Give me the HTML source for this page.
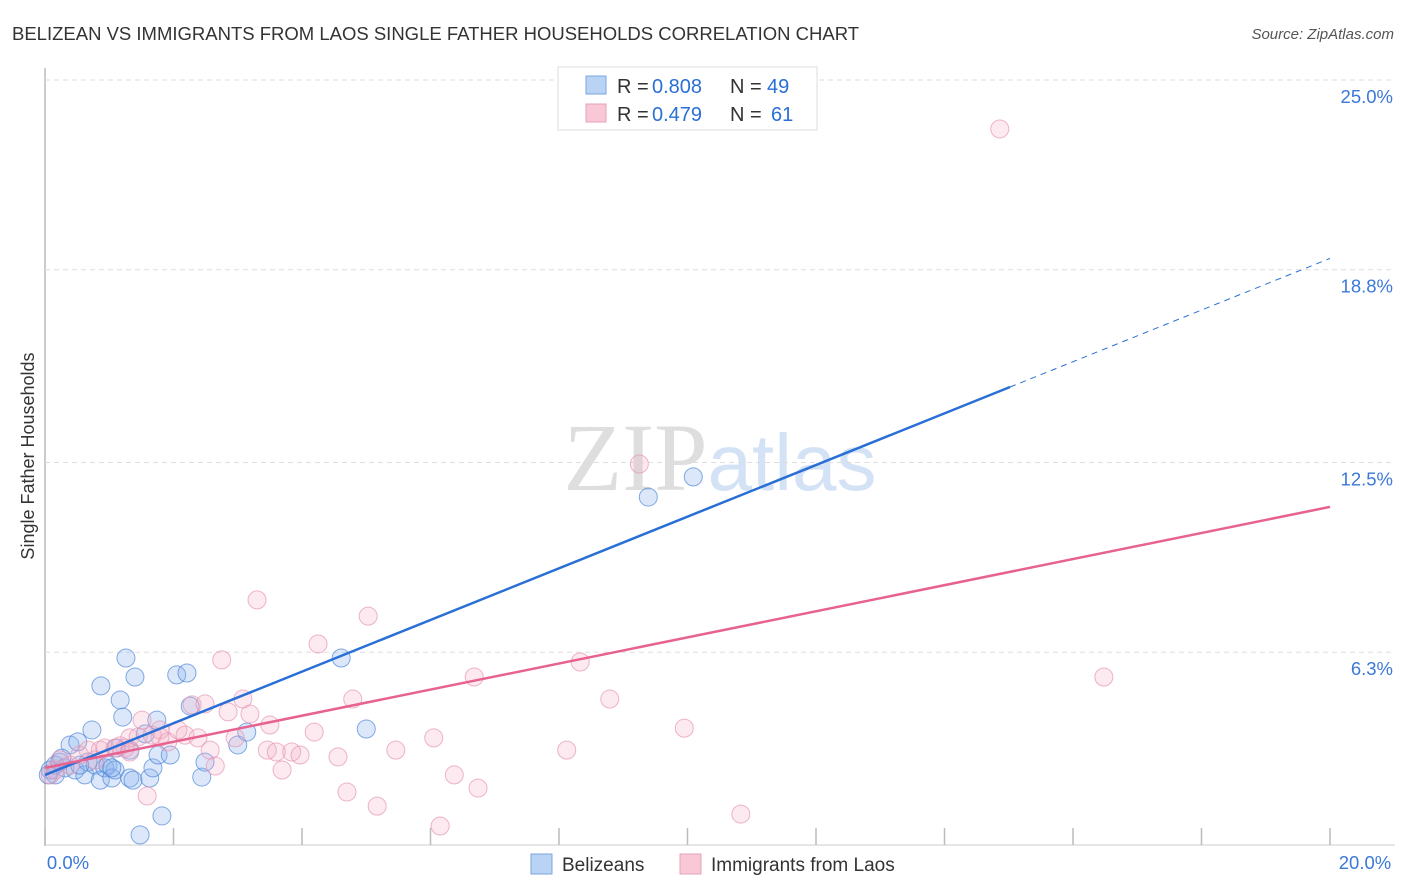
<!DOCTYPE html>
<html><head><meta charset="utf-8"><style>
body{margin:0;background:#fff;font-family:"Liberation Sans",sans-serif}
svg{display:block}
</style></head><body>
<svg id="chart" width="1406" height="892" xmlns="http://www.w3.org/2000/svg" font-family="Liberation Sans, sans-serif">
<text x="12" y="40" font-size="18.5" fill="#333">BELIZEAN VS IMMIGRANTS FROM LAOS SINGLE FATHER HOUSEHOLDS CORRELATION CHART</text>
<text x="1394" y="39" font-size="15" fill="#555" font-style="italic" text-anchor="end">Source: ZipAtlas.com</text>
<text x="720" y="490" font-size="96" text-anchor="middle" fill="#ddd" opacity="0.8"><tspan font-family="Liberation Serif, serif" fill="#d6d6d6">ZIP</tspan><tspan fill="#c9dcf2" font-size="80">atlas</tspan></text>
<text transform="translate(34,456) rotate(-90)" font-size="18" fill="#333" text-anchor="middle">Single Father Households</text>
<g id="grid"></g>
<g id="pts"></g>
<g id="lines"></g>
<g>
<rect x="558" y="67" width="259" height="63" fill="#fff" stroke="#ddd"/>
<rect x="586" y="76" width="20" height="18" fill="#b9d3f5" stroke="#7aa6e0"/>
<rect x="586" y="104" width="20" height="18" fill="#f8c8d6" stroke="#e8a0b8"/>
<text x="617" y="93" font-size="20" fill="#333">R =</text>
<text x="652" y="93" font-size="20" fill="#2a6fd6">0.808</text>
<text x="730" y="93" font-size="20" fill="#333">N =</text>
<text x="767" y="93" font-size="20" fill="#2a6fd6">49</text>
<text x="617" y="121" font-size="20" fill="#333">R =</text>
<text x="652" y="121" font-size="20" fill="#2a6fd6">0.479</text>
<text x="730" y="121" font-size="20" fill="#333">N =</text>
<text x="771" y="121" font-size="20" fill="#2a6fd6">61</text>
</g>
<g>
<rect x="531" y="854" width="21" height="20" fill="#b9d3f5" stroke="#7aa6e0"/>
<text x="562" y="871" font-size="19" fill="#333">Belizeans</text>
<rect x="680" y="854" width="21" height="20" fill="#f8c8d6" stroke="#e8a0b8"/>
<text x="711" y="871" font-size="19" fill="#333">Immigrants from Laos</text>
</g>
</svg>
<script>
const yTicks=[25.0,18.8,12.5,6.3];
const yTickLabels=["25.0%","18.8%","12.5%","6.3%"];
const xTickLabels=["0.0%","20.0%"];
const blueX=[0.08,0.16,0.23,0.31,0.39,0.47,0.51,0.62,0.67,0.73,0.78,0.86,0.87,0.93,0.98,1.04,1.09,1.17,1.21,1.26,1.32,1.37,1.40,1.48,1.56,1.63,1.68,1.74,1.76,1.82,1.95,2.05,2.21,2.26,2.44,2.49,3.00,3.14,4.61,5.00,9.39,10.09,0.16,0.26,0.54,1.04,1.11,0.05,1.32];
const blueY=[2.45,2.61,2.71,2.52,3.27,2.45,3.37,2.29,2.71,3.76,2.61,2.12,5.2,2.52,2.61,2.19,2.45,4.74,4.18,6.11,2.19,2.12,5.49,0.33,3.63,2.19,2.52,4.08,2.94,0.95,2.94,5.56,5.62,4.54,2.22,2.71,3.27,3.69,6.11,3.79,11.37,12.03,2.29,2.84,2.61,2.52,3.17,2.29,3.10];
const pinkX=[0.08,0.16,0.23,0.39,0.54,0.67,0.78,0.86,0.93,1.09,1.17,1.25,1.32,1.45,1.51,1.59,1.67,1.79,1.91,2.07,2.18,2.29,2.38,2.49,2.57,2.65,2.75,2.85,2.96,3.08,3.19,3.30,3.46,3.50,3.60,3.69,3.84,3.97,4.19,4.25,4.56,4.70,4.79,5.03,5.17,5.46,6.05,6.15,6.37,6.68,6.74,8.12,8.33,9.25,8.79,9.95,10.83,14.86,16.48,1.79,1.32];
const pinkY=[2.29,2.45,2.78,2.61,2.94,3.10,2.78,3.10,3.17,3.17,3.24,3.17,3.50,3.53,4.08,1.60,3.59,3.76,3.37,3.76,3.59,4.58,3.50,4.61,3.10,2.58,6.05,4.35,3.50,4.77,4.28,8.01,3.10,3.92,3.04,2.45,3.04,2.94,3.69,6.57,2.88,1.73,4.77,7.48,1.27,3.10,3.50,0.62,2.29,5.49,1.86,3.10,5.98,12.45,4.77,3.82,1.01,23.4,5.49,3.53,3.04];
const blueTrend=[2.29,19.17]; // y at x=0 and x=20
const pinkTrend=[2.52,11.05];
const blueSolidEnd=15.02;
const NS="http://www.w3.org/2000/svg";
const X=v=>45+v/20*1285, Y=v=>845-v/25*765;
function mk(tag,attrs,parent){const e=document.createElementNS(NS,tag);for(const k in attrs)e.setAttribute(k,attrs[k]);parent.appendChild(e);return e;}
const grid=document.getElementById('grid'),pts=document.getElementById('pts'),lines=document.getElementById('lines');
let ax=mk('line',{x1:45,y1:68,x2:45,y2:846,stroke:'#bbb','stroke-width':1.5},grid);

yTicks.forEach((t,i)=>{
 let g=mk('line',{x1:45,x2:1395,y1:Y(t),y2:Y(t),stroke:'#ddd','stroke-dasharray':'5,4'},grid);
 
 let tx=mk('text',{x:1393,y:Y(t)+23,'font-size':18.5,fill:'#3b78d8','text-anchor':'end'},grid);tx.textContent=yTickLabels[i];
 
});
let bx=mk('line',{x1:45,x2:1395,y1:845,y2:845,stroke:'#ccc'},grid);

for(let i=0;i<=10;i++){let l=mk('line',{x1:X(i*2),x2:X(i*2),y1:828,y2:845,stroke:'#bbb','stroke-width':1.5},grid);
 }
[[0,68,'middle'],[20,1365,'middle']].forEach((a,i)=>{let t=mk('text',{x:a[1],y:869,'font-size':18.5,fill:'#3b78d8','text-anchor':a[2]},grid);t.textContent=xTickLabels[i];
 });
blueX.forEach((x,i)=>{let c=mk('circle',{cx:X(x),cy:Y(blueY[i]),r:9,fill:'rgba(140,180,240,0.3)',stroke:'rgba(80,135,215,0.7)','stroke-width':1},pts);
 });
pinkX.forEach((x,i)=>{let c=mk('circle',{cx:X(x),cy:Y(pinkY[i]),r:9,fill:'rgba(245,170,195,0.25)',stroke:'rgba(230,150,180,0.7)','stroke-width':1},pts);
 });
const bAt=x=>blueTrend[0]+(blueTrend[1]-blueTrend[0])*x/20;
let l1=mk('line',{x1:X(0),y1:Y(bAt(0)),x2:X(blueSolidEnd),y2:Y(bAt(blueSolidEnd)),stroke:'#2a6fd6','stroke-width':2.5},lines);

let l2=mk('line',{x1:X(blueSolidEnd),y1:Y(bAt(blueSolidEnd)),x2:X(20),y2:Y(bAt(20)),stroke:'#2a6fd6','stroke-width':1,'stroke-dasharray':'6,5'},lines);

let l3=mk('line',{x1:X(0),y1:Y(pinkTrend[0]),x2:X(20),y2:Y(pinkTrend[1]),stroke:'#e8628f','stroke-width':2.5},lines);

</script>
</body></html>
